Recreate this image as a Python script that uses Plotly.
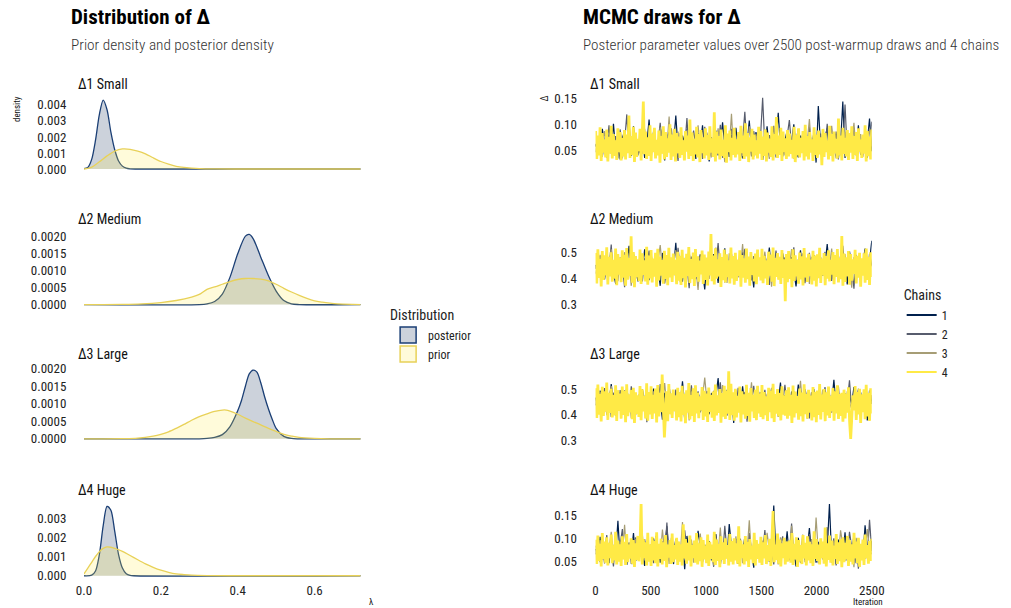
import plotly.graph_objects as go

# ---------------- data ----------------
PARAMS = ["Δ1 Small", "Δ2 Medium", "Δ3 Large", "Δ4 Huge"]
CHAINS = ["1", "2", "3", "4"]
N_DRAWS = 2500

# density curves (lambda grid, density)
post1_x = [0, 0.01, 0.02, 0.03, 0.04, 0.05, 0.06, 0.07, 0.08, 0.09, 0.10, 0.11, 0.12, 0.14, 0.72]
post1_y = [0.00002, 0.0001, 0.0006, 0.0018, 0.0034, 0.0043, 0.0037, 0.0023, 0.0012, 0.0005, 0.00018, 0.00005, 0.00001, 0, 0]
prior1_x = [0, 0.02, 0.04, 0.06, 0.08, 0.10, 0.12, 0.14, 0.16, 0.18, 0.20, 0.22, 0.24, 0.26, 0.28, 0.30, 0.34, 0.40, 0.72]
prior1_y = [0, 0.00012, 0.00045, 0.00082, 0.00112, 0.00125, 0.00123, 0.00112, 0.00095, 0.0007, 0.00047, 0.0003, 0.00017, 0.0001, 0.00006, 0.00003, 0.00001, 0, 0]

post2_x = [0, 0.30, 0.32, 0.34, 0.36, 0.38, 0.40, 0.42, 0.43, 0.44, 0.46, 0.48, 0.50, 0.52, 0.54, 0.56, 0.72]
post2_y = [0, 0, 0.00002, 0.00009, 0.00031, 0.00081, 0.0015, 0.00202, 0.00207, 0.00195, 0.0014, 0.00085, 0.0004, 0.00012, 0.00002, 0, 0]
prior2_x = [0, 0.10, 0.15, 0.20, 0.24, 0.28, 0.30, 0.32, 0.34, 0.36, 0.38, 0.40, 0.42, 0.44, 0.46, 0.48, 0.50, 0.52, 0.54, 0.56, 0.58, 0.60, 0.62, 0.64, 0.66, 0.70, 0.72]
prior2_y = [0, 0.000005, 0.00002, 0.00006, 0.00012, 0.00022, 0.0003, 0.00045, 0.00052, 0.0006, 0.00068, 0.00074, 0.00077, 0.00077, 0.00075, 0.0007, 0.0006, 0.00048, 0.00037, 0.00027, 0.00018, 0.00011, 0.00007, 0.00004, 0.00002, 0.000005, 0]

post3_x = [0, 0.30, 0.32, 0.34, 0.36, 0.38, 0.40, 0.41, 0.42, 0.43, 0.44, 0.45, 0.46, 0.47, 0.48, 0.49, 0.50, 0.52, 0.54, 0.56, 0.72]
post3_y = [0, 0, 0.00001, 0.00004, 0.00012, 0.00035, 0.0008, 0.0011, 0.0015, 0.00185, 0.00196, 0.0019, 0.0016, 0.0012, 0.00085, 0.00055, 0.0003, 0.00007, 0.00001, 0, 0]
prior3_x = [0, 0.10, 0.14, 0.18, 0.20, 0.22, 0.24, 0.26, 0.28, 0.30, 0.32, 0.34, 0.36, 0.37, 0.38, 0.40, 0.42, 0.44, 0.46, 0.48, 0.50, 0.52, 0.54, 0.56, 0.60, 0.64, 0.72]
prior3_y = [0, 0.000005, 0.00002, 0.00008, 0.00013, 0.0002, 0.0003, 0.00041, 0.00053, 0.00063, 0.00071, 0.00078, 0.00082, 0.00082, 0.00079, 0.0007, 0.00059, 0.00049, 0.0004, 0.0003, 0.00021, 0.00013, 0.00008, 0.00004, 0.00001, 0, 0]

post4_x = [0, 0.02, 0.03, 0.04, 0.05, 0.06, 0.07, 0.08, 0.09, 0.10, 0.11, 0.12, 0.13, 0.72]
post4_y = [0, 0.00003, 0.00025, 0.0011, 0.0026, 0.0036, 0.0034, 0.0023, 0.0011, 0.0004, 0.0001, 0.00002, 0, 0]
prior4_x = [0, 0.01, 0.02, 0.03, 0.04, 0.05, 0.06, 0.07, 0.08, 0.10, 0.12, 0.14, 0.16, 0.18, 0.20, 0.22, 0.24, 0.26, 0.28, 0.32, 0.40, 0.72]
prior4_y = [0.0001, 0.0004, 0.0007, 0.001, 0.00125, 0.00142, 0.0015, 0.00148, 0.00142, 0.00127, 0.00105, 0.00083, 0.00062, 0.00044, 0.00029, 0.00018, 0.0001, 0.00006, 0.00003, 0.00001, 0, 0]

POST_X = [post1_x, post2_x, post3_x, post4_x]
POST_Y = [post1_y, post2_y, post3_y, post4_y]
PRIOR_X = [prior1_x, prior2_x, prior3_x, prior4_x]
PRIOR_Y = [prior1_y, prior2_y, prior3_y, prior4_y]

# thinned MCMC draws (values in thousandths); chains 1-3: 125 draws, chain 4: 250 draws
d1_c1 = [58,71,44,92,63,37,81,55,102,49,66,33,74,88,52,61,40,97,57,69,45,83,36,64,110,
         51,77,42,59,95,68,31,73,86,47,62,118,54,39,79,65,91,43,57,70,34,84,60,99,48,
         67,29,76,53,89,41,63,105,58,72,38,81,46,94,56,68,35,77,62,108,50,43,86,59,74,
         32,65,97,52,80,45,61,123,57,39,70,88,48,66,101,54,37,79,63,92,44,71,58,84,27,
         136,60,47,75,93,55,40,68,82,51,64,145,36,73,57,89,46,62,99,42,78,53,67,112,49]
d1_c2 = [63,48,85,39,70,56,99,44,61,78,35,91,53,67,120,46,74,58,82,41,69,95,50,37,76,
         60,87,43,65,104,52,38,79,57,93,47,71,30,84,62,55,113,40,68,89,59,45,77,34,96,
         54,72,41,63,86,49,100,36,75,58,66,92,44,57,81,33,70,125,51,64,39,88,61,47,73,
         152,56,42,80,67,98,37,62,53,85,46,74,109,58,35,69,91,50,63,77,43,96,55,71,38,
         64,83,48,57,102,40,75,61,87,33,68,54,139,45,79,59,94,41,66,73,50,86,36,62,106]
d1_c3 = [47,76,59,38,88,64,52,97,43,71,57,84,35,66,49,103,61,40,79,55,68,44,92,58,73,
         39,82,62,50,95,45,70,57,116,36,74,60,87,48,65,33,90,53,77,42,63,99,51,69,46,
         85,56,37,72,61,93,47,66,28,80,54,121,43,67,59,88,40,75,52,97,64,38,82,57,70,
         45,91,60,34,78,53,106,49,68,86,41,63,74,55,94,37,70,58,83,46,65,111,51,39,77,
         62,48,89,56,71,42,98,59,35,80,67,52,87,44,73,60,104,47,63,82,38,69,55,92,58]
d1_c4 = [88,34,79,41,95,30,84,46,72,37,91,29,77,44,98,35,82,40,70,32,93,47,86,31,75,
         39,90,33,81,45,118,36,78,42,96,28,85,38,73,49,92,31,80,145,43,87,34,76,40,99,
         30,83,47,94,35,71,41,89,27,78,44,97,33,86,38,74,46,101,32,81,39,92,29,84,45,
         77,36,95,42,70,31,88,48,79,34,110,40,85,30,73,43,96,37,82,28,90,45,76,35,93,
         41,80,32,97,46,74,38,124,29,87,44,78,33,91,40,71,36,99,27,83,47,89,31,75,42,
         94,37,72,43,86,30,98,45,79,34,103,39,84,28,76,48,92,33,81,41,70,35,96,44,88,
         32,77,40,91,29,85,46,73,38,97,31,82,43,115,36,79,42,94,30,87,47,74,34,90,39,
         83,44,71,35,96,28,80,41,93,37,75,45,88,31,100,39,78,33,86,46,72,30,95,42,81,
         36,89,43,76,22,92,38,84,47,70,33,98,40,82,29,87,45,73,35,112,41,79,31,94,44,
         75,39,90,32,84,46,97,34,78,42,86,30,93,48,72,36,81,44,99,29,88,40,77,33,91]

d2_c1 = [452,418,487,433,396,468,441,505,422,379,458,431,492,410,447,526,401,463,437,389,475,428,512,445,394,
         461,417,483,436,372,498,452,425,469,407,441,537,413,456,388,479,432,503,420,465,398,449,484,426,358,
         471,440,415,494,457,383,462,429,516,405,448,477,421,392,458,434,501,446,411,470,437,366,489,453,424,
         467,402,445,519,430,386,476,451,413,497,439,464,408,482,427,370,455,508,433,418,472,444,395,490,459,
         426,482,411,453,532,438,397,469,443,414,487,431,461,377,504,449,420,474,436,401,458,515,429,466,545]
d2_c2 = [437,470,405,489,451,416,442,530,398,463,428,481,449,367,472,435,411,496,456,421,444,389,478,460,507,
         415,453,432,499,408,466,381,445,487,426,459,402,518,438,472,419,447,363,484,433,412,469,493,441,396,
         458,427,482,410,449,536,423,464,385,476,437,495,418,452,471,404,440,514,429,461,393,486,446,417,468,
         434,490,452,375,471,439,507,414,456,425,481,397,462,443,520,409,474,431,458,382,448,499,420,466,436,
         479,411,447,502,428,463,391,485,440,419,457,526,432,406,473,448,361,491,425,460,437,474,412,495,450]
d2_c3 = [419,462,491,436,403,477,445,512,428,457,390,470,438,501,416,453,372,481,442,466,409,495,431,460,423,
         488,447,408,467,528,434,457,395,479,420,451,509,437,386,463,426,492,446,413,475,440,356,484,452,429,
         461,398,476,435,519,448,412,466,440,383,497,427,458,471,404,443,532,419,462,436,486,401,451,477,424,
         445,503,416,459,369,474,438,490,427,455,411,480,447,513,432,394,468,441,497,420,456,379,483,437,465,
         430,471,452,398,487,443,515,421,463,408,476,439,494,416,457,365,482,448,425,469,438,504,413,461,447]
d2_c4 = [498,381,512,402,476,370,505,395,489,412,520,377,483,408,501,388,472,399,515,374,494,415,480,386,508,
         403,491,372,517,396,478,410,562,384,502,367,486,405,474,391,511,379,497,414,470,389,522,376,488,400,
         509,385,477,407,499,369,514,393,484,411,471,380,506,398,490,374,518,404,481,387,496,413,473,378,503,
         392,487,375,510,401,479,366,495,409,521,383,475,397,500,371,513,406,485,388,469,416,507,379,492,395,
         480,373,504,412,571,390,488,377,516,399,474,408,497,368,482,394,511,385,493,405,470,381,519,400,486,
         376,499,391,472,410,508,369,490,403,478,384,515,397,484,372,502,414,476,389,496,378,511,407,481,393,
         514,382,487,400,470,375,503,411,492,388,519,371,479,406,498,395,483,379,509,402,474,313,494,386,505,
         398,476,367,512,391,489,408,471,380,500,396,485,373,517,404,480,387,495,410,473,377,506,392,488,370,
         493,401,518,383,477,412,498,374,486,399,508,389,472,415,502,378,490,406,513,385,479,397,563,372,496,
         387,481,409,505,376,494,392,474,418,510,381,487,403,499,369,478,411,497,384,515,395,483,375,501,406]

d3_c1 = [468,431,495,450,412,477,439,521,446,398,462,487,425,455,508,433,470,389,481,448,416,499,457,436,474,
         442,503,419,466,452,381,487,440,515,428,461,406,479,448,532,437,455,394,483,469,423,491,446,413,476,
         453,402,486,438,472,545,429,461,415,498,444,476,368,489,452,427,512,440,464,405,481,448,431,496,458,
         419,473,447,504,436,388,465,451,527,422,478,443,410,492,455,437,519,468,399,484,446,463,426,501,440,
         481,426,458,493,411,470,447,538,432,464,397,485,452,421,476,443,509,459,415,488,437,470,378,496,452]
d3_c2 = [437,482,413,458,505,441,469,392,487,451,426,497,460,433,475,416,512,447,401,466,489,438,455,371,479,
         458,417,493,446,521,430,464,405,480,452,437,499,421,470,455,384,487,443,516,428,462,491,409,474,448,
         493,438,461,412,484,451,528,426,469,397,486,445,473,420,506,457,432,490,373,464,448,514,431,477,455,
         442,498,421,466,487,430,459,393,482,447,518,436,463,407,492,452,425,474,441,501,465,386,489,434,458,
         415,471,446,509,432,478,455,400,494,440,463,427,485,450,536,418,472,444,497,429,456,481,411,467,443]
d3_c3 = [461,423,489,442,476,399,467,513,434,458,482,415,451,497,440,471,387,486,453,428,504,446,419,479,462,
         433,492,456,411,478,445,525,427,464,402,486,449,470,421,509,438,460,378,491,454,416,483,441,472,547,
         448,476,410,495,439,462,426,517,453,484,403,469,442,498,431,456,480,391,475,447,528,420,461,437,489,
         452,418,483,445,506,433,471,395,488,459,425,496,444,467,412,480,451,534,428,463,385,490,447,473,419,
         470,443,499,422,461,485,407,476,450,514,435,468,392,493,448,424,481,457,503,430,466,441,487,415,478]
d3_c4 = [505,388,519,401,482,374,510,396,493,412,527,380,487,407,502,390,478,398,516,376,497,415,484,385,511,
         400,494,371,520,395,481,409,498,383,506,368,489,404,477,392,513,379,500,413,474,386,524,377,490,402,
         512,384,479,406,503,370,517,394,487,410,559,381,311,399,493,375,521,403,485,388,499,414,476,378,506,
         391,490,374,514,400,483,367,497,408,525,382,478,396,504,372,516,405,488,387,473,417,509,380,495,394,
         484,372,507,411,478,389,492,376,519,398,477,407,501,369,486,393,514,384,496,404,571,380,522,399,489,
         377,502,390,475,409,511,370,493,402,481,385,518,396,487,373,505,413,479,388,499,379,514,406,484,392,
         517,383,490,399,473,376,506,410,495,387,522,372,482,405,501,394,486,378,512,401,477,397,497,385,508,
         397,479,368,515,390,492,407,474,381,503,395,488,374,520,403,483,386,498,409,476,378,509,391,491,371,
         496,400,521,382,480,411,501,375,489,398,511,388,475,414,505,377,493,405,516,384,482,396,487,373,499,
         386,484,408,508,375,305,391,477,417,513,380,490,402,502,368,481,410,500,383,518,394,486,376,504,405]

d4_c1 = [78,62,104,55,89,71,47,96,83,66,139,58,92,74,43,85,67,112,52,79,95,64,41,88,73,
         57,101,69,84,48,93,76,127,61,80,45,98,72,59,87,34,106,70,91,63,54,117,77,49,86,
         68,95,53,81,110,65,42,90,74,58,132,83,61,99,46,78,70,104,56,87,71,37,94,66,82,
         59,108,75,50,89,172,63,97,44,80,69,116,57,85,73,40,102,67,91,54,79,123,62,88,48,
         93,71,56,101,77,175,60,86,45,98,74,64,114,52,83,69,107,47,90,76,58,129,81,65,95]
d4_c2 = [66,91,49,83,72,108,58,78,40,97,63,86,121,54,75,92,45,70,103,61,84,51,99,68,77,
         88,47,106,73,57,94,65,135,52,80,71,99,43,85,62,118,76,55,90,67,101,48,82,74,59,
         96,64,81,39,107,72,87,58,128,69,83,53,95,77,46,100,66,88,60,112,74,50,92,63,85,
         70,119,56,89,76,44,98,65,84,105,57,79,67,133,52,91,73,48,96,62,86,110,55,80,71,
         47,94,68,83,125,59,76,101,42,88,65,97,74,54,115,82,61,90,35,78,69,104,57,141,73]
d4_c3 = [85,58,97,70,46,89,76,115,63,81,52,94,68,130,57,87,72,43,99,65,79,108,54,91,67,
         74,96,51,83,62,120,69,88,45,102,77,59,93,66,136,55,84,71,98,48,80,64,111,58,87,
         63,89,75,42,101,68,124,56,92,79,50,86,72,105,61,97,47,82,70,140,59,93,66,85,53,
         96,62,113,74,57,88,70,44,103,81,66,95,53,128,76,60,91,68,109,49,84,72,99,58,146,
         71,90,55,107,67,83,48,96,74,61,118,79,52,93,69,87,38,102,64,85,73,56,121,80,66]
d4_c4 = [98,45,107,52,89,40,112,56,94,48,103,42,91,58,109,47,86,53,115,44,96,50,88,41,105,
         55,93,43,110,49,87,57,101,46,97,39,90,54,106,51,85,175,44,99,58,92,42,113,50,88,
         41,104,53,95,47,114,40,89,56,100,44,92,52,108,38,87,59,97,45,111,49,86,55,102,43,
         94,50,88,42,131,57,99,46,91,53,107,40,86,58,96,48,112,44,90,51,103,39,97,55,85,
         47,109,41,93,56,87,49,115,43,98,52,89,38,105,54,92,45,101,57,86,42,110,50,95,44,
         101,53,90,46,127,40,96,58,88,44,106,51,93,39,99,55,85,47,113,42,97,56,89,48,104,
         43,92,57,108,45,86,52,100,41,95,160,49,87,54,111,46,98,40,90,58,102,44,94,50,85,
         96,48,112,43,89,55,103,39,97,51,86,45,108,57,91,42,105,53,93,47,88,41,116,56,99,
         52,87,44,101,58,94,46,124,40,90,54,107,48,96,42,85,56,110,45,92,51,99,38,103,49,
         91,55,106,41,97,50,88,44,113,57,94,47,102,39,89,53,98,43,109,58,86,46,95,52,100]

DRAWS = [[d1_c1, d1_c2, d1_c3, d1_c4],
         [d2_c1, d2_c2, d2_c3, d2_c4],
         [d3_c1, d3_c2, d3_c3, d3_c4],
         [d4_c1, d4_c2, d4_c3, d4_c4]]
UNIT = 1000.0

# tick settings
DENS_TICKS = [(0.001, ".3f"), (0.0005, ".4f"), (0.0005, ".4f"), (0.001, ".3f")]
TRACE_TICKS = [(0.05, ".2f"), (0.1, ".1f"), (0.1, ".1f"), (0.05, ".2f")]
LAMBDA_TICKS = [0.0, 0.2, 0.4, 0.6]
ITER_TICKS = [0, 500, 1000, 1500, 2000, 2500]

# ---------------- style ----------------
W, H = 1011, 608
FONT = "Roboto Condensed, Liberation Sans Narrow, DejaVu Sans Condensed, Roboto, sans-serif"
CHAIN_COLORS = ["#00204D", "#575C6D", "#A69D75", "#FFEA46"]
CHAIN_WIDTHS = [1.2, 1.2, 1.2, 2.8]
POST_LINE, POST_FILL = "#1B3F75", "rgba(0,32,77,0.2)"
PRIOR_LINE, PRIOR_FILL = "#E8D158", "rgba(255,234,70,0.2)"

# the captured page shows the paper slightly scaled/offset; positions below are
# given in target-image pixels and mapped through this calibration
SX, OX, SY, OY = 0.982, 7.8, 0.985, 3.3


def fx(px):
    return (px - OX) / SX / W


def fy(px):
    return 1 - (px - OY) / SY / H


def rng(dom_bot, dom_top, v0, p0, v1, p1):
    per = (p0 - p1) / (v1 - v0)
    return [v0 - (dom_bot - p0) / per, v1 + (p1 - dom_top) / per]


# panel geometry (target px)
DENS_X = (84, 361.5)
TRACE_X = (597, 874)
DENS_Y = [(172, 95, 0, 170, 0.004, 106), (307, 230, 0, 305.3, 0.002, 237.7),
          (441, 364, 0, 439.3, 0.002, 369.3), (578, 501, 0, 576, 0.003, 518.3)]
TRACE_Y = [(172, 95, 0.05, 151.7, 0.15, 100), (309, 230, 0.3, 305.3, 0.5, 253.3),
           (444, 366, 0.3, 440.7, 0.5, 390), (578, 500, 0.05, 562, 0.15, 516)]
STRIP_Y = [85, 220, 355, 490]

fig = go.Figure()
layout = {}

for r in range(4):
    kd = 2 * r + 1
    kt = 2 * r + 2
    xd, yd = ("x" if kd == 1 else f"x{kd}"), ("y" if kd == 1 else f"y{kd}")
    xt, yt = f"x{kt}", f"y{kt}"
    fig.add_trace(go.Scatter(x=POST_X[r], y=POST_Y[r], mode="lines", fill="tozeroy",
                             fillcolor=POST_FILL, line=dict(color=POST_LINE, width=1.3, shape="spline", smoothing=0.8),
                             xaxis=xd, yaxis=yd, showlegend=False, hoverinfo="skip"))
    fig.add_trace(go.Scatter(x=PRIOR_X[r], y=PRIOR_Y[r], mode="lines", fill="tozeroy",
                             fillcolor=PRIOR_FILL, line=dict(color=PRIOR_LINE, width=1.3, shape="spline", smoothing=0.8),
                             xaxis=xd, yaxis=yd, showlegend=False, hoverinfo="skip"))
    for c in range(4):
        vals = DRAWS[r][c]
        n = len(vals)
        iters = [1 + i * (N_DRAWS - 1) / (n - 1) for i in range(n)]
        fig.add_trace(go.Scatter(x=iters, y=[v / UNIT for v in vals], mode="lines",
                                 line=dict(color=CHAIN_COLORS[c], width=CHAIN_WIDTHS[c]),
                                 showlegend=False, xaxis=xt, yaxis=yt, hoverinfo="skip"))

    bottom = (r == 3)
    axfont = dict(family=FONT, size=13, color="#222222")
    db, dt, v0, p0, v1, p1 = DENS_Y[r]
    layout["xaxis" if kd == 1 else f"xaxis{kd}"] = dict(
        domain=[fx(DENS_X[0]), fx(DENS_X[1])], range=[0, 0.72], anchor=yd,
        showgrid=False, zeroline=False, showline=False,
        tickvals=LAMBDA_TICKS, tickformat=".1f", showticklabels=bottom,
        ticks="outside", ticklen=1, tickcolor="rgba(0,0,0,0)", tickfont=axfont)
    layout["yaxis" if kd == 1 else f"yaxis{kd}"] = dict(
        domain=[fy(db), fy(dt)], range=rng(db, dt, v0, p0, v1, p1), anchor=xd,
        showgrid=False, zeroline=False, showline=False,
        tick0=0, dtick=DENS_TICKS[r][0], tickformat=DENS_TICKS[r][1],
        ticks="outside", ticklen=14, tickcolor="rgba(0,0,0,0)", tickfont=axfont)
    tb, tt, w0, q0, w1, q1 = TRACE_Y[r]
    layout[f"xaxis{kt}"] = dict(
        domain=[fx(TRACE_X[0]), fx(TRACE_X[1])], range=[0, N_DRAWS], anchor=yt,
        showgrid=False, zeroline=False, showline=False,
        tickvals=ITER_TICKS, showticklabels=bottom,
        ticks="outside", ticklen=1, tickcolor="rgba(0,0,0,0)", tickfont=axfont)
    layout[f"yaxis{kt}"] = dict(
        domain=[fy(tb), fy(tt)], range=rng(tb, tt, w0, q0, w1, q1), anchor=xt,
        showgrid=False, zeroline=False, showline=False,
        tick0=0, dtick=TRACE_TICKS[r][0], tickformat=TRACE_TICKS[r][1],
        ticks="outside", ticklen=15, tickcolor="rgba(0,0,0,0)", tickfont=axfont)

# legend keys
fig.add_trace(go.Scatter(x=[None], y=[None], mode="markers", name="posterior", legend="legend",
                         marker=dict(symbol="square", size=17, color=POST_FILL, line=dict(color="#1B3F75", width=1.5)),
                         xaxis="x", yaxis="y"))
fig.add_trace(go.Scatter(x=[None], y=[None], mode="markers", name="prior", legend="legend",
                         marker=dict(symbol="square", size=17, color=PRIOR_FILL, line=dict(color=PRIOR_LINE, width=1.5)),
                         xaxis="x", yaxis="y"))
for c in range(4):
    fig.add_trace(go.Scatter(x=[None], y=[None], mode="lines", name=CHAINS[c], legend="legend2",
                             line=dict(color=CHAIN_COLORS[c], width=2), xaxis="x2", yaxis="y2"))

ann = []
def txt(text, x, y, size, xanchor="left", yanchor="middle", bold=False, color="#111111", angle=0, weight=None):
    a = dict(text=(f"<b>{text}</b>" if bold else text), x=fx(x), y=fy(y), xref="paper", yref="paper",
             xanchor=xanchor, yanchor=yanchor, showarrow=False, textangle=angle,
             font=dict(family=FONT, size=size, color=color))
    if weight:
        a["font"]["weight"] = weight
    ann.append(a)

txt("Distribution of Δ", 69, 18, 21, bold=True, color="#000000")
txt("Prior density and posterior density", 69, 46, 15.3, color="#333333", weight=300)
txt("MCMC draws for Δ", 582, 18, 21, bold=True, color="#000000")
txt("Posterior parameter values over 2500 post-warmup draws and 4 chains", 582, 46, 15.1, color="#333333", weight=300)
for r in range(4):
    txt(PARAMS[r], 76, STRIP_Y[r], 14)
    txt(PARAMS[r], 589, STRIP_Y[r], 14)
txt("density", 17, 110, 9, xanchor="center", angle=-90)
txt("Δ", 546, 100, 10, xanchor="center", angle=-90)
txt("λ", 372, 602, 9, xanchor="center")
txt("Iteration", 870, 602.5, 9, xanchor="center")

layout.update(dict(
    width=W, height=H, autosize=False, margin=dict(l=0, r=0, t=0, b=0),
    paper_bgcolor="white", plot_bgcolor="white",
    font=dict(family=FONT, color="#222222"),
    annotations=ann,
    legend=dict(title=dict(text="Distribution", font=dict(family=FONT, size=14)),
                x=fx(389), y=fy(303), xanchor="left", yanchor="top",
                font=dict(family=FONT, size=12), bgcolor="rgba(0,0,0,0)", itemsizing="trace"),
    legend2=dict(title=dict(text="Chains", font=dict(family=FONT, size=14)),
                 x=fx(904), y=fy(283), xanchor="left", yanchor="top",
                 font=dict(family=FONT, size=12), bgcolor="rgba(0,0,0,0)"),
))
fig.update_layout(**layout)
fig.write_html("out.html")
